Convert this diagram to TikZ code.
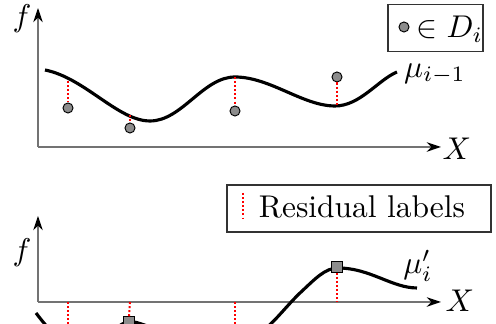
\documentclass[tikz,border=0pt]{standalone}
\usetikzlibrary{arrows.meta}
\begin{document}
\begin{tikzpicture}[x=0.318pt,y=-0.318pt,
  axis/.style={draw=black!55,line width=0.6pt,-{Stealth[black,length=4.5pt,width=3pt]}},
  fcurve/.style={draw=black,line width=1pt},
  resid/.style={draw=red,line width=0.65pt,dash pattern=on 0.65pt off 0.65pt},
  datapt/.style={circle,draw=black,fill=black!45,line width=0.3pt,minimum size=3.2pt,inner sep=0pt},
  sqpt/.style={rectangle,draw=black,fill=black!45,line width=0.3pt,minimum size=3.3pt,inner sep=0pt},
  legbox/.style={draw=black!80,line width=0.5pt,inner sep=0pt}]
\useasboundingbox (0,0) rectangle (496,324);
\clip (0,0) rectangle (496,324);
% ---------- top panel ----------
\coordinate (o1) at (38,147);
\coordinate (ytop1) at (38,8);
\coordinate (xend1) at (441,147);
\draw[axis] (o1) -- (ytop1);
\draw[axis] (o1) -- (xend1);
\node (f1) at (22,19) {$f$};
\node (X1) at (457,149) {$X$};
\draw[fcurve] (45,70) .. controls (85,78) and (118,121) .. (150,121)
  .. controls (182,121) and (203,77) .. (235,77)
  .. controls (270,77) and (303,106) .. (335,106)
  .. controls (360,106) and (378,80) .. (397,72);
\node (mu1) at (435,74) {$\mu_{i-1}$};
\coordinate (c1) at (68,81);
\coordinate (c2) at (130,115);
\coordinate (c3) at (235,77);
\coordinate (c4) at (337,105);
\node[datapt] (p1) at (68,108) {};
\node[datapt] (p2) at (130,128) {};
\node[datapt] (p3) at (235,111) {};
\node[datapt] (p4) at (337,77) {};
\draw[resid] (c1) -- (p1.north);
\draw[resid] (c2) -- (p2.north);
\draw[resid] (c3) -- (p3.north);
\draw[resid] (p4.south) -- (c4);
\node[legbox,minimum width=30.2pt,minimum height=15pt] (leg1) at (435.5,28) {};
\node[datapt] (lp) at (404,27) {};
\node (legt1) at (450,29) {$\in D_i$};
% ---------- bottom panel ----------
\coordinate (o2) at (38,302);
\coordinate (ytop2) at (38,216);
\coordinate (xend2) at (441,302);
\draw[axis] (o2) -- (ytop2);
\draw[axis] (o2) -- (xend2);
\node (f2) at (22,253) {$f$};
\node (X2) at (460,301) {$X$};
\draw[fcurve] (36,313) .. controls (46,326) and (60,345) .. (82,345)
  .. controls (104,345) and (118,321.5) .. (130,321.5)
  .. controls (146,321.5) and (195,352) .. (235,345)
  .. controls (262,341) and (280,312) .. (300,293)
  .. controls (315,279) and (325,268) .. (338,268)
  .. controls (370,268) and (392,288) .. (417,288);
\node (mu2) at (418,266) {$\mu'_i$};
\coordinate (a1) at (68,302);
\coordinate (a2) at (130,302);
\coordinate (a3) at (235,302);
\coordinate (a4) at (337,302);
\node[sqpt] (q1) at (68,341) {};
\node[sqpt] (q2) at (129,322) {};
\node[sqpt] (q3) at (235,345) {};
\node[sqpt] (q4) at (337,267) {};
\draw[resid] (a1) -- (q1.north);
\draw[resid] (a2) -- (q2.north);
\draw[resid] (a3) -- (q3.north);
\draw[resid] (q4.south) -- (a4);
\node[legbox,minimum width=84pt,minimum height=15pt] (leg2) at (359,208.5) {};
\coordinate (ls) at (243,193);
\coordinate (le) at (243,219);
\draw[resid] (ls) -- (le);
\node (legt2) at (362,207) {Residual labels};
\end{tikzpicture}
\end{document}
